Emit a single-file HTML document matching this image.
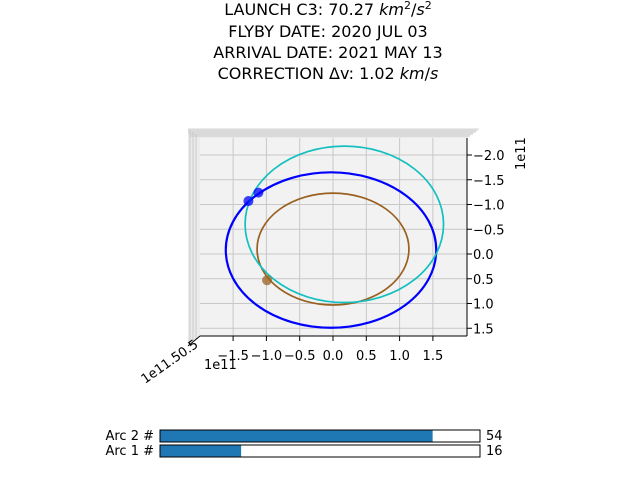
<!DOCTYPE html>
<html><head><meta charset="utf-8"><style>
body{margin:0;background:#fff}
svg text{font-family:"DejaVu Sans","Liberation Sans",sans-serif}
</style></head><body>
<svg width="640" height="480" viewBox="0 0 640 480">
<g font-size="16" text-anchor="middle" fill="#000">
<text x="328" y="15">LAUNCH C3: 70.27 <tspan font-style="italic">km</tspan><tspan font-size="11" dy="-6">2</tspan><tspan dy="6">/</tspan><tspan font-style="italic">s</tspan><tspan font-size="11" dy="-6">2</tspan></text>
<text x="328" y="37">FLYBY DATE: 2020 JUL 03</text>
<text x="328" y="58">ARRIVAL DATE: 2021 MAY 13</text>
<text x="328" y="79">CORRECTION Δv: 1.02 <tspan font-style="italic">km</tspan>/<tspan font-style="italic">s</tspan></text>
</g>
<g>
<polygon points="188,128 480,128 467,138 200,138 200,336 188,346" fill="#ebebeb"/>
<polygon points="200,138 467,138 467,336 200,336" fill="#f2f2f2"/>
<g stroke="#c8c8c8" stroke-width="1"><line x1="188" y1="130" x2="478" y2="130"/><line x1="188" y1="132" x2="476" y2="132"/><line x1="189" y1="134" x2="473" y2="134"/><line x1="190" y1="136" x2="470" y2="136"/>
<line x1="190" y1="130" x2="190" y2="343"/><line x1="193" y1="132" x2="193" y2="341"/><line x1="196" y1="134" x2="196" y2="339"/></g>
</g>
<g id="grid"></g>
<g id="orbits"></g>
<g id="axes"></g>
<text x="204" y="369" font-size="13">1e11</text>
<text x="500" y="175" font-size="13" transform="rotate(-90 510 160)">1e11</text>
<text x="145" y="384" font-size="13" transform="rotate(-35 145 384)">1e11.50.5</text>
<g id="bars"></g>
</svg>
<script>
const xTicks=[-1.5,-1.0,-0.5,0.0,0.5,1.0,1.5];
const yTicks=[-2.0,-1.5,-1.0,-0.5,0.0,0.5,1.0,1.5];
const orbitNames=['earth','mars','transfer'];
const orbitCx=[0,-0.03,0.17];
const orbitCy=[-0.1,-0.08,-0.6];
const orbitRx=[1.14,1.58,1.49];
const orbitRy=[1.13,1.57,1.58];
const orbitColors=['#996020','#0000ff','#14bfbf'];
const pointX=[-1.27,-1.12,-0.99];
const pointY=[-1.07,-1.24,0.53];
const pointColors=['#0000ff','#0000ff','#996020'];
const arcLabels=['Arc 2 #','Arc 1 #'];
const arcValues=[54,16];
const arcMax=63.5;
const NS='http://www.w3.org/2000/svg';
const sx=v=>333+v*66.6, sy=v=>254+v*49.5;
function mk(tag,attrs,parent){const e=document.createElementNS(NS,tag);for(const k in attrs)e.setAttribute(k,attrs[k]);parent.appendChild(e);return e;}
const grid=document.getElementById('grid'),axes=document.getElementById('axes'),orb=document.getElementById('orbits'),bars=document.getElementById('bars');
xTicks.forEach(t=>{const x=sx(t);
const l=mk('line',{x1:x,y1:138,x2:x,y2:336,stroke:'#c8c8c8'},grid);


mk('line',{x1:x,y1:336,x2:x,y2:341,stroke:'#000'},axes);
const tx=mk('text',{x:x,y:360,'font-size':13,'text-anchor':'middle'},axes);tx.textContent=(t<0?'−':'')+Math.abs(t).toFixed(1);

});
yTicks.forEach(t=>{const y=sy(t);
const l=mk('line',{x1:200,y1:y,x2:467,y2:y,stroke:'#c8c8c8'},grid);


mk('line',{x1:467,y1:y,x2:472,y2:y,stroke:'#000'},axes);
const tx=mk('text',{x:473,y:y+5,'font-size':13},axes);tx.textContent=(t<0?'−':'')+Math.abs(t).toFixed(1);

});
mk('line',{x1:200,y1:336,x2:467,y2:336,stroke:'#000'},axes);
mk('line',{x1:467,y1:138,x2:467,y2:336,stroke:'#000'},axes);
mk('line',{x1:188,y1:346,x2:200,y2:336,stroke:'#000'},axes);
orbitNames.forEach((n,i)=>{const e=mk('ellipse',{cx:sx(orbitCx[i]),cy:sy(orbitCy[i]),rx:orbitRx[i]*66.6,ry:orbitRy[i]*49.5,fill:'none',stroke:orbitColors[i],'stroke-width':i==1?2.2:1.7},orb);

});
pointX.forEach((p,i)=>{const c=mk('circle',{cx:sx(p),cy:sy(pointY[i]),r:5,fill:pointColors[i],'fill-opacity':0.75},orb);

});
arcLabels.forEach((lab,i)=>{const y=430+i*15;
const t=mk('text',{x:154,y:y+10,'font-size':13,'text-anchor':'end'},bars);t.textContent=lab;


mk('rect',{x:160,y:y,width:320,height:12,fill:'#fff',stroke:'#000'},bars);
const r=mk('rect',{x:160.5,y:y+0.5,width:arcValues[i]/arcMax*320,height:11,fill:'#1f77b4'},bars);


const v=mk('text',{x:486,y:y+10,'font-size':13},bars);v.textContent=arcValues[i];

});
</script>
</body></html>
